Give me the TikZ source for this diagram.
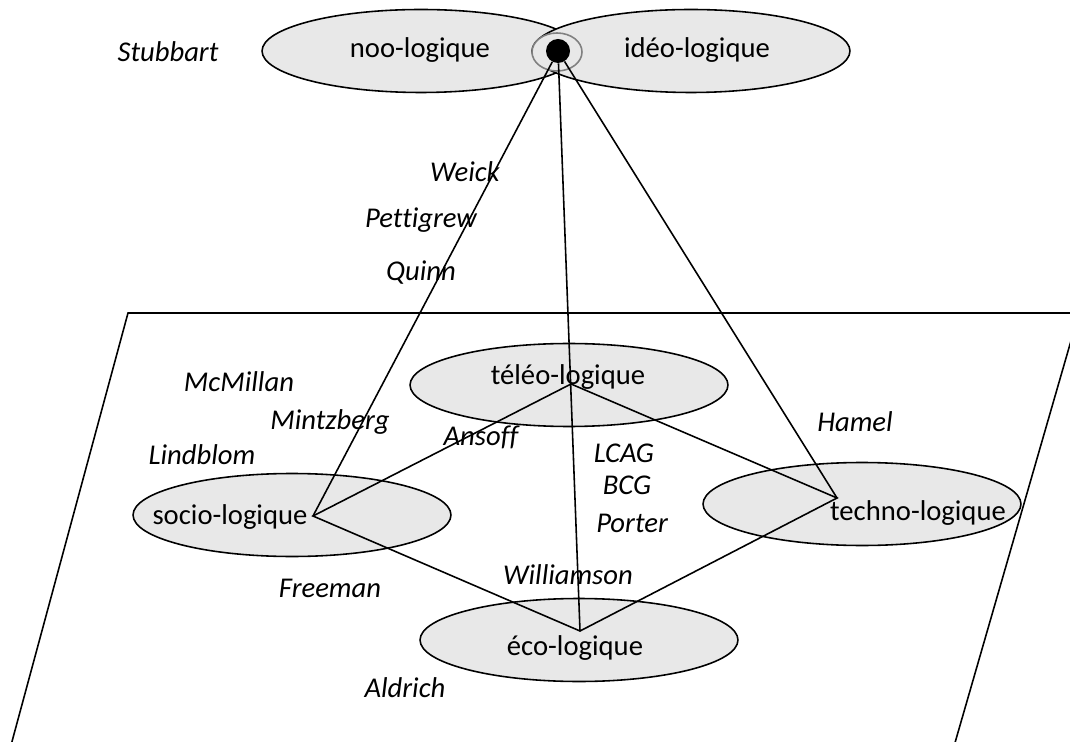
\documentclass[tikz,border=0pt]{standalone}
\usepackage{fontspec}
\setmainfont{Carlito}[Ligatures=NoCommon]
\usetikzlibrary{calc,shapes.geometric}
\tikzset{
	logique/.style={draw, line width=0.9pt, fill=black!9, ellipse, minimum width=6.36cm, minimum height=1.66cm, inner sep=0pt},
	noyau/.style={draw=black!50, line width=0.9pt, fill=black!9, ellipse, minimum width=1cm, minimum height=0.76cm, inner sep=0pt},
	pointe/.style={fill=black, circle, minimum size=0.48cm, inner sep=0pt},
	niveau/.style={font=\fontsize{16.3}{19}\selectfont, inner sep=0pt},
	auteur/.style={font=\fontsize{16.3}{19}\selectfont\itshape, inner sep=0pt},
	lien/.style={line width=0.9pt},
}

\begin{document}
\begin{tikzpicture}[x=0.02cm, y=-0.02cm]
			%%%%% START %%%%%
			\useasboundingbox (0, 0) rectangle (1070, 742);
			
			% le plan
			\begin{scope}
				\clip (0, 0) rectangle (1070, 742);
				\draw[lien] (7, 760) -- (128, 313) -- (1079, 313) -- (950, 760);
			\end{scope}
			
			% les ellipses du haut
			\node[logique] (noo) at (421, 51) {};
			\node[logique] (ideo) at (691, 51) {};
			\node[noyau] (centre) at (557, 52) {};
			\node[niveau] (nooT) at (420, 50) {noo-logique};
			\node[niveau] (ideoT) at (697, 50) {idéo-logique};
			
			% les ellipses du plan
			\node[logique] (teleo) at (569, 385) {};
			\node[logique] (socio) at (292, 515) {};
			\node[logique] (techno) at (862, 504) {};
			\node[logique] (eco) at (579, 640) {};
			\node[niveau] (teleoT) at (568, 377) {téléo-logique};
			\node[niveau] (socioT) at (230, 517) {socio-logique};
			\node[niveau] (technoT) at (918, 513) {techno-logique};
			\node[niveau] (ecoT) at (575, 648) {éco-logique};
			
			% les auteurs
			\node[auteur] (stubbart) at (168, 52) {Stubbart};
			\node[auteur] (weick) at (465, 172) {Weick};
			\node[auteur] (pettigrew) at (421, 220) {Pettigrew};
			\node[auteur] (quinn) at (421, 273) {Quinn};
			\node[auteur] (mcmillan) at (239, 382) {McMillan};
			\node[auteur] (mintzberg) at (330, 422) {Mintzberg};
			\node[auteur] (ansoff) at (481, 437) {Ansoff};
			\node[auteur] (lindblom) at (202, 455) {Lindblom};
			\node[auteur] (lcag) at (624, 453) {LCAG};
			\node[auteur] (bcg) at (627, 485) {BCG};
			\node[auteur] (porter) at (632, 523) {Porter};
			\node[auteur] (hamel) at (855, 422) {Hamel};
			\node[auteur] (williamson) at (568, 575) {Williamson};
			\node[auteur] (freeman) at (330, 588) {Freeman};
			\node[auteur] (aldrich) at (405, 688) {Aldrich};
			
			% les sommets
			\coordinate (teleoP) at (571, 384);
			\coordinate (socioP) at (313, 516);
			\coordinate (technoP) at (837, 498);
			\coordinate (ecoP) at (580, 631);
			
			\node[pointe] (sommet) at (558, 51) {};
			
			\draw[lien] (sommet) -- (socioP);
			\draw[lien] (sommet) -- (ecoP);
			\draw[lien] (sommet) -- (technoP);
			
			\draw[lien] (socioP) -- (teleoP) -- (technoP) -- (ecoP) -- cycle;
			
			%%%%% END %%%%%
\end{tikzpicture}
\end{document}
